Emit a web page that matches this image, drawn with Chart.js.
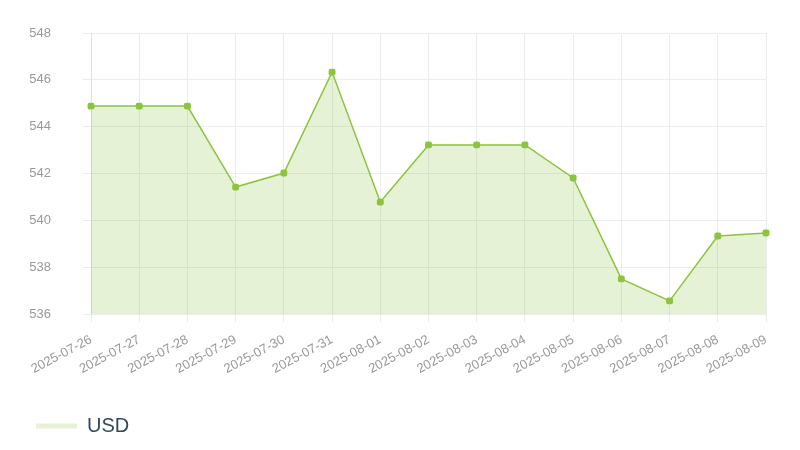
<!DOCTYPE html>
<html>
<head>
<meta charset="utf-8">
<script src="https://cdn.jsdelivr.net/npm/chart.js@4.4.1/dist/chart.umd.min.js"></script>
<style>
    html, body { margin: 0; padding: 0; background: #fff; }
    #wrap { width: 800px; height: 450px; }
</style>
</head>
<body>
<div id="wrap"><canvas id="usdChart"></canvas></div>
<script>
const labels = [
    '2025-07-26', '2025-07-27', '2025-07-28', '2025-07-29', '2025-07-30',
    '2025-07-31', '2025-08-01', '2025-08-02', '2025-08-03', '2025-08-04',
    '2025-08-05', '2025-08-06', '2025-08-07', '2025-08-08', '2025-08-09'
];
const usd = [
    544.88, 544.88, 544.88, 541.42, 542.02,
    546.33, 540.78, 543.22, 543.22, 543.22,
    541.81, 537.50, 536.56, 539.33, 539.46
];
const yTicks = [536, 538, 540, 542, 544, 546, 548];

const ctx = document.getElementById('usdChart').getContext('2d');

new Chart(ctx, {
    type: 'line',
    data: {
        labels: labels,
        datasets: [{
            label: 'USD',
            data: usd,
            borderColor: '#8cc43f',
            backgroundColor: 'rgba(140, 196, 63, 0.22)',
            borderWidth: 1.5,
            fill: 'start',
            tension: 0,
            pointStyle: 'rectRounded',
            pointRadius: 4,
            pointBackgroundColor: '#8cc43f',
            pointBorderColor: '#8cc43f',
            pointBorderWidth: 0
        }]
    },
    options: {
        responsive: true,
        maintainAspectRatio: false,
        animation: false,
        layout: {
            padding: { top: 33, right: 34, left: 7, bottom: 4 }
        },
        scales: {
            x: {
                grid: { color: '#ececec', tickLength: 8 },
                border: { color: '#ececec' },
                ticks: {
                    color: '#999',
                    padding: 10,
                    font: { family: 'Liberation Sans', size: 13 },
                    minRotation: 28,
                    maxRotation: 28
                }
            },
            y: {
                min: yTicks[0],
                max: yTicks[yTicks.length - 1],
                grid: { color: '#ececec', tickLength: 8 },
                border: { color: '#e0e0e0' },
                afterBuildTicks: function(axis) {
                    axis.ticks = yTicks.map(v => ({ value: v }));
                },
                afterFit: function(axis) {
                    // tick padding is counted twice in the width, trim the blank part
                    axis.width = 84;
                    axis.paddingTop = 0;
                    axis.paddingBottom = 0;
                },
                ticks: {
                    color: '#999',
                    padding: 32,
                    font: { family: 'Liberation Sans', size: 13 }
                }
            }
        },
        plugins: {
            legend: {
                position: 'bottom',
                align: 'start',
                labels: {
                    color: '#34495e',
                    boxWidth: 41,
                    boxHeight: 5,
                    padding: 29,
                    font: { family: 'Liberation Sans', size: 20 },
                    generateLabels: function(chart) {
                        return chart.data.datasets.map((ds, i) => ({
                            text: ds.label,
                            fillStyle: ds.backgroundColor,
                            strokeStyle: 'rgba(0,0,0,0)',
                            lineWidth: 0,
                            fontColor: '#34495e',
                            hidden: false,
                            datasetIndex: i
                        }));
                    }
                }
            },
            tooltip: { enabled: false }
        }
    }
});
</script>
</body>
</html>
